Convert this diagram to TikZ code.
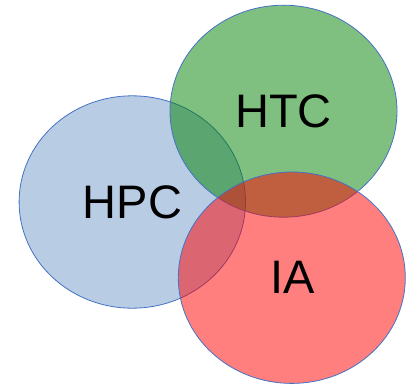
\documentclass[tikz,border=0pt]{standalone}
\usepackage{fontspec}
\setmainfont{Liberation Sans}
\definecolor{edgeblue}{HTML}{4472C4}
\definecolor{hpcfill}{HTML}{B8CCE4}
\definecolor{htcfill}{HTML}{008000}
\definecolor{iafill}{HTML}{FF0000}
\begin{document}
\begin{tikzpicture}[x=1pt,y=-1pt,
  setc/.style={draw=edgeblue,line width=0.8pt},
  lbl/.style={font=\fontsize{47}{56}\selectfont,text=black,inner sep=0pt}]
\useasboundingbox (0,0) rectangle (406,385);
\draw[setc,fill=hpcfill] (132.3,202) ellipse [x radius=113.2, y radius=106.2];
\draw[setc,fill=htcfill,fill opacity=0.5] (283.5,111.2) ellipse [x radius=113.5, y radius=106];
\draw[setc,fill=iafill,fill opacity=0.5] (291.8,277.7) ellipse [x radius=113.5, y radius=105.7];
\node[lbl] (hpc) at (132.5,202) {HPC};
\node[lbl] (htc) at (283.5,111) {HTC};
\node[lbl] (ia) at (293,277) {IA};
\end{tikzpicture}
\end{document}
